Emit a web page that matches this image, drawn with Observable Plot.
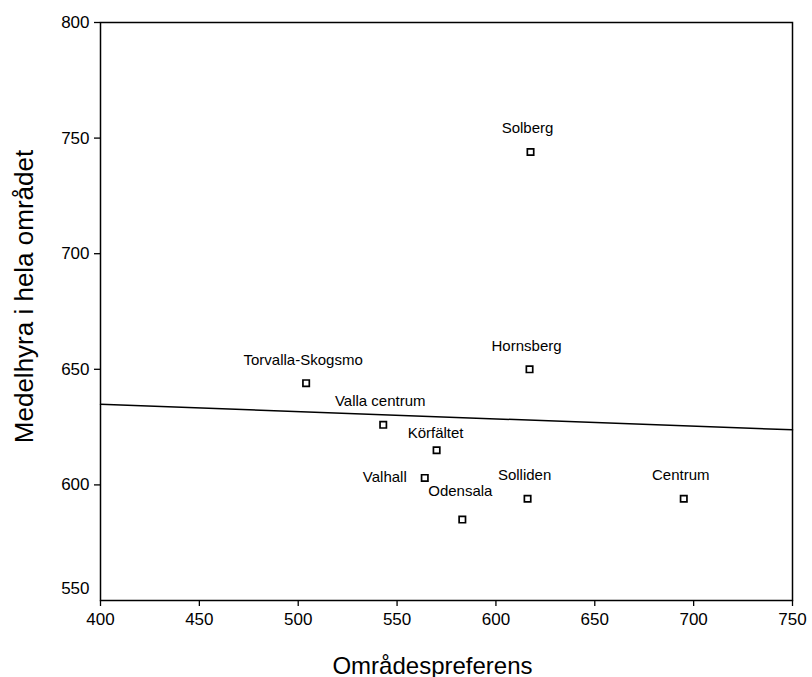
<!DOCTYPE html>
<html>
<head>
<meta charset="utf-8">
<script src="https://cdn.jsdelivr.net/npm/d3@7"></script>
<script src="https://cdn.jsdelivr.net/npm/@observablehq/plot@0.6"></script>
<style>
  html, body { margin: 0; padding: 0; background: #fff; }
  #chart svg { display: block; font-family: "Liberation Sans", Arial, sans-serif; }
</style>
</head>
<body>
<div id="chart"></div>
<script>
// ---- data ----
const areaNames = ["Solberg", "Hornsberg", "Torvalla-Skogsmo", "Valla centrum", "Körfältet", "Valhall", "Odensala", "Solliden", "Centrum"];
const areaPreference = [617.5, 617, 504, 543, 570, 564, 583, 616, 695];
const averageRent = [744, 650, 644, 626, 615, 603, 585, 594, 594];
const fitX = [400, 750];
const fitY = [634.9, 623.8];
const xTicks = [400, 450, 500, 550, 600, 650, 700, 750];
const yTicks = [600, 650, 700, 750, 800];
const yBottomTick = [550];
const xTitle = "Områdespreferens";
const yTitle = "Medelhyra i hela området";

// ---- derived tables ----
const points = areaNames.map((name, i) => ({name, x: areaPreference[i], y: averageRent[i]}));
const fitLine = fitX.map((x, i) => ({x, y: fitY[i]}));
const leftLabels = new Set(["Valhall"]);
const closeLabels = new Set(["Körfältet"]);
const farLabels = new Set(["Odensala"]);
const standard = d => !leftLabels.has(d.name) && !closeLabels.has(d.name) && !farLabels.has(d.name);

const chart = Plot.plot({
  width: 812,
  height: 677,
  marginLeft: 100,
  marginRight: 20,
  marginTop: 22,
  marginBottom: 77,
  style: {fontFamily: '"Liberation Sans", Arial, sans-serif', background: "#fff", color: "#000", overflow: "visible"},
  x: {domain: [400, 750]},
  y: {domain: [550, 800]},
  marks: [
    Plot.frame({stroke: "#000", strokeWidth: 1.5}),
    Plot.axisX({ticks: xTicks, tickSize: 6, tickPadding: 6, fontSize: 17, tickFormat: d => String(d), label: null, stroke: "#000", strokeWidth: 1.3}),
    Plot.axisY({ticks: yTicks, tickSize: 6, tickPadding: 5, fontSize: 17, tickFormat: d => String(d), label: null, stroke: "#000", strokeWidth: 1.3}),
    Plot.text(yBottomTick, {x: () => 400, y: d => d, text: d => String(d), textAnchor: "end", lineAnchor: "middle", dx: -11, dy: -12, fontSize: 17, fill: "#000"}),
    Plot.line(fitLine, {x: "x", y: "y", stroke: "#000", strokeWidth: 1.5}),
    Plot.dot(points, {x: "x", y: "y", symbol: "square", r: 3.6, stroke: "#000", strokeWidth: 1.7, fill: "#fff"}),
    Plot.text(points.filter(standard), {x: "x", y: "y", text: "name", textAnchor: "middle", lineAnchor: "bottom", dx: -3, dy: -18.5, fontSize: 15, fill: "#000"}),
    Plot.text(points.filter(d => closeLabels.has(d.name)), {x: "x", y: "y", text: "name", textAnchor: "middle", lineAnchor: "bottom", dx: -1, dy: -12, fontSize: 15, fill: "#000"}),
    Plot.text(points.filter(d => farLabels.has(d.name)), {x: "x", y: "y", text: "name", textAnchor: "middle", lineAnchor: "bottom", dx: -2, dy: -24, fontSize: 15, fill: "#000"}),
    Plot.text(points.filter(d => leftLabels.has(d.name)), {x: "x", y: "y", text: "name", textAnchor: "end", lineAnchor: "bottom", dx: -18, dy: 4, fontSize: 15, fill: "#000"}),
    Plot.text([xTitle], {frameAnchor: "bottom", text: d => d, textAnchor: "middle", lineAnchor: "bottom", dx: -14, dy: 73, fontSize: 24, fill: "#000"}),
    Plot.text([yTitle], {frameAnchor: "left", text: d => d, textAnchor: "middle", rotate: -90, lineAnchor: "bottom", dx: -68, dy: -15, fontSize: 26, fill: "#000"})
  ]
});
document.getElementById("chart").appendChild(chart);
</script>
</body>
</html>
